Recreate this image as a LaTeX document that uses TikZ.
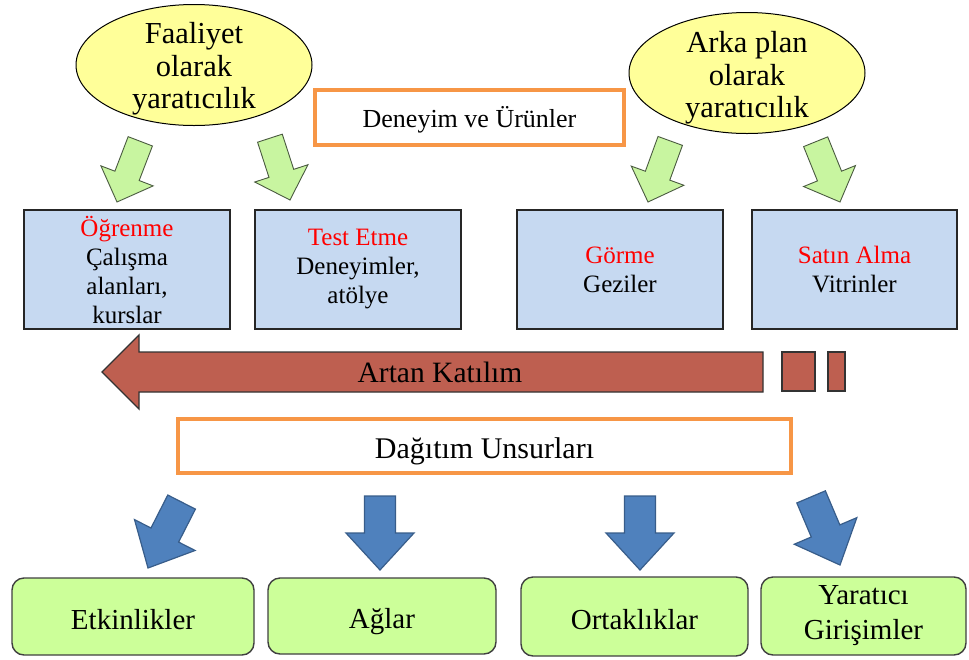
\documentclass[tikz,border=0pt]{standalone}
\usepackage{fontspec}
\setmainfont{Liberation Serif}
\usetikzlibrary{shapes.geometric}

\definecolor{ideafill}{HTML}{FFFF99}
\definecolor{stagefill}{HTML}{C6D9F1}
\definecolor{accent}{HTML}{F79646}
\definecolor{leaffill}{HTML}{CCFF99}
\definecolor{sproutfill}{HTML}{C8F5A0}
\definecolor{sproutline}{HTML}{4A5A40}
\definecolor{bluefill}{HTML}{4F81BD}
\definecolor{blueline}{HTML}{385D8A}
\definecolor{flowfill}{HTML}{BE5F50}

% down-pointing block arrows, tip at (#1,#2), turned by #3 degrees
\newcommand\grnarrow[3]{%
  \draw[sproutarrow, shift={(#1,#2)}, rotate=#3]
    (-13,-65) -- (13,-65) -- (13,-28) -- (28,-28) -- (0,0)
    -- (-28,-28) -- (-13,-28) -- cycle;}
\newcommand\bluarrow[3]{%
  \draw[bluearrow, shift={(#1,#2)}, rotate=#3]
    (-15.5,-74) -- (15.5,-74) -- (15.5,-37) -- (34,-37) -- (0,0)
    -- (-34,-37) -- (-15.5,-37) -- cycle;}

\begin{document}
\begin{tikzpicture}[x=1pt,y=-1pt,
  idea/.style={ellipse, draw=black, line width=1pt, fill=ideafill,
    minimum width=236pt, minimum height=121pt, inner sep=0pt},
  ideatext/.style={align=center, font=\fontsize{30.5}{32.5}\selectfont, inner sep=0pt},
  stagebox/.style={draw=black!85, line width=1.6pt, fill=stagefill,
    minimum width=206pt, minimum height=119pt, inner sep=0pt, align=center,
    font=\fontsize{25}{29}\selectfont},
  heading/.style={draw=accent, line width=4.5pt, fill=white, inner sep=0pt},
  leafbox/.style={draw=black!75, line width=1.4pt, fill=leaffill,
    rounded corners=12pt, inner sep=0pt, align=center,
    font=\fontsize{29}{35}\selectfont},
  oneline/.style={text height=27pt, text depth=2pt},
  sproutarrow/.style={draw=sproutline, line width=0.9pt, fill=sproutfill},
  bluearrow/.style={draw=blueline, line width=1.2pt, fill=bluefill},
  flowshape/.style={draw=black!80, line width=1.4pt, fill=flowfill},
]
\useasboundingbox (0,0) rectangle (969,659);

% creativity ellipses
\node[idea] (act) at (194,65) {};
\node[ideatext] (acttext) at (194,69) {Faaliyet\\olarak\\yaratıcılık};
\node[idea] (bg) at (747,73) {};
\node[ideatext] (bgtext) at (747,78) {Arka plan\\olarak\\yaratıcılık};

% upper heading
\node[heading, minimum width=309pt, minimum height=55pt,
  font=\fontsize{26}{29}\selectfont, text height=22pt, text depth=3pt]
  (exp) at (469.5,117.5) {Deneyim ve Ürünler};

% green arrows
\grnarrow{117}{202}{-21}
\grnarrow{290}{200}{18}
\grnarrow{648}{202}{-20}
\grnarrow{840}{202}{22}

% experience boxes
\node[stagebox] (learn) at (127,269.5)
  {\textcolor{red}{Öğrenme}\\Çalışma\\alanları,\\kurslar};
\node[stagebox] (test) at (358,269.5)
  {\textcolor{red}{Test Etme}\\Deneyimler,\\atölye};
\node[stagebox] (see) at (620,269.5)
  {\textcolor{red}{Görme}\\Geziler};
\node[stagebox, minimum width=205pt] (buy) at (854.5,269.5)
  {\textcolor{red}{Satın Alma}\\Vitrinler};

% participation arrow
\draw[flowshape] (102,372) -- (139,335) -- (139,352) -- (763,352)
  -- (763,392) -- (139,392) -- (139,409) -- cycle;
\node[font=\fontsize{29.5}{32}\selectfont] (part) at (440,372) {Artan Katılım};
\node[flowshape, minimum width=33pt, minimum height=39pt, inner sep=0pt]
  (bar1) at (798.5,371.5) {};
\node[flowshape, minimum width=17pt, minimum height=39pt, inner sep=0pt]
  (bar2) at (836.5,371.5) {};

% lower heading
\node[heading, minimum width=613pt, minimum height=54pt,
  font=\fontsize{30}{33}\selectfont, text height=26pt, text depth=2pt]
  (dist) at (484.5,446) {Dağıtım Unsurları};

% blue arrows
\bluarrow{148}{568}{-27}
\bluarrow{380}{570}{0}
\bluarrow{640}{570}{0}
\bluarrow{840}{565}{23}

% distribution boxes
\node[leafbox, oneline, minimum width=242pt, minimum height=77pt] (events) at (133,616.5) {Etkinlikler};
\node[leafbox, oneline, minimum width=228pt, minimum height=76pt] (nets) at (382,616) {Ağlar};
\node[leafbox, oneline, minimum width=227pt, minimum height=79pt] (partners) at (634.5,616.5) {Ortaklıklar};
\node[leafbox, minimum width=205pt, minimum height=78pt] (ventures) at (863.5,616) {Yaratıcı\\Girişimler};
\end{tikzpicture}
\end{document}
